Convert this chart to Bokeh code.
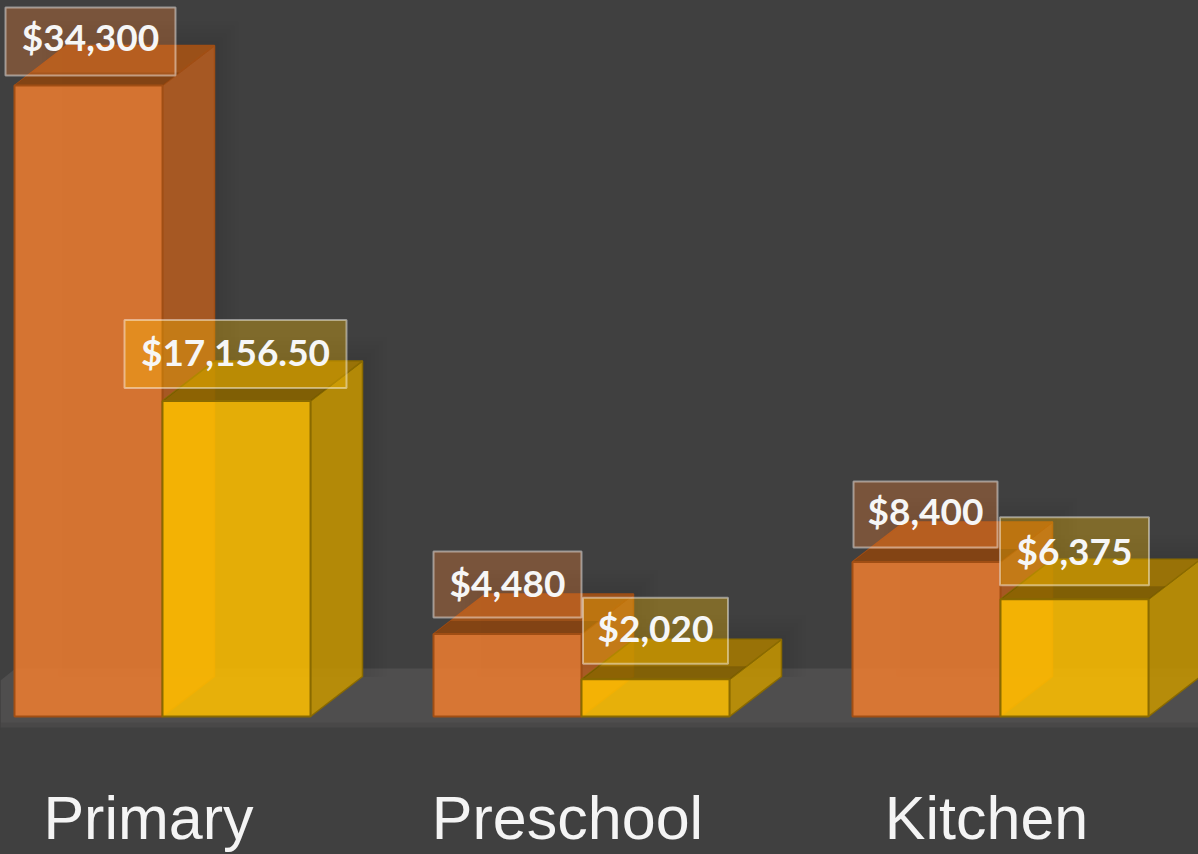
from bokeh.plotting import figure
from bokeh.models import Range1d, FixedTicker
from bokeh.embed import file_html
from bokeh.resources import INLINE
from bokeh.core.properties import value

categories = ["Primary", "Preschool", "Kitchen"]
series_a = [34300, 4480, 8400]
series_b = [17156.5, 2020, 6375]
label_a = ["$34,300", "$4,480", "$8,400"]
label_b = ["$17,156.50", "$2,020", "$6,375"]

W, H, AXIS_H = 1198, 854, 114
BASE_PX, GROUP0_PX, STEP_PX = 716, 162, 419
PX_PER_USD = 631 / 34300
BAR = 148 / STEP_PX
ALPHA = 0.865
BG = "#404040"

def dx(px):
    return px / STEP_PX

def dy(px):
    return px / PX_PER_USD

p = figure(width=W, height=H, output_backend="svg", toolbar_location=None,
           x_range=Range1d(dx(-GROUP0_PX), dx(W - GROUP0_PX)),
           y_range=Range1d(dy(BASE_PX - (H - AXIS_H)), dy(BASE_PX)),
           min_border_left=0, min_border_right=0, min_border_top=0,
           min_border_bottom=AXIS_H, outline_line_color=None,
           background_fill_color=BG, border_fill_color=BG)
p.styles = {"background-color": BG}
p.grid.visible = False
p.yaxis.visible = False

ax = p.xaxis[0]
ticks = [i - dx(14) for i in range(len(categories))]
ax.ticker = FixedTicker(ticks=ticks)
ax.major_label_overrides = {t: c for t, c in zip(ticks, categories)}
ax.axis_line_color = None
ax.major_tick_line_color = None
ax.minor_tick_line_color = None
ax.major_label_text_font = "Liberation Sans"
ax.major_label_text_font_size = "61px"
ax.major_label_text_color = "#f4f4f4"
ax.major_label_standoff = 37

# floor
xl, xr = dx(-GROUP0_PX), dx(W - GROUP0_PX)
p.patch([xl, xl, xl + dx(15), xr, xr],
        [dy(-11), dy(36), dy(48), dy(48), dy(-11)],
        fill_color="#4f4e4e", line_color=None)
p.quad(left=[xl], right=[xr], bottom=[dy(-13)], top=[dy(-6)],
       fill_color=BG, fill_alpha=0.4, line_color=None)

DEPTH_X, DEPTH_Y = dx(52), dy(40)


def shadow(x0, x1, top):
    for grow in (4, 8, 12, 16, 20, 24):
        p.quad(left=[x0 + DEPTH_X - dx(grow)], right=[x1 + DEPTH_X + dx(grow)],
               bottom=[DEPTH_Y], top=[top + DEPTH_Y + dy(grow)],
               fill_color="black", fill_alpha=0.012, line_color=None)


def box(x0, x1, top, front, side, lid, edge):
    # side
    p.patch([x1, x1 + DEPTH_X, x1 + DEPTH_X, x1], [0, DEPTH_Y, top + DEPTH_Y, top],
            fill_color=side, fill_alpha=ALPHA, line_color=edge, line_width=1.5)
    # lid
    p.patch([x0, x0 + DEPTH_X, x1 + DEPTH_X, x1], [top, top + DEPTH_Y, top + DEPTH_Y, top],
            fill_color=lid, fill_alpha=ALPHA, line_color=edge, line_width=1.5)
    # contact shadow on the lid
    band = 13 / 40
    p.patch([x0, x0 + DEPTH_X * band, x1 + DEPTH_X * band, x1],
            [top, top + DEPTH_Y * band, top + DEPTH_Y * band, top],
            fill_color="black", fill_alpha=0.16, line_color=None)
    # front
    p.quad(left=[x0], right=[x1], bottom=[0], top=[top],
           fill_color=front, fill_alpha=ALPHA, line_color=edge, line_width=2)


for i in range(len(categories)):
    shadow(i - BAR, i, series_a[i])
    shadow(i, i + BAR, series_b[i])

for i in range(len(categories)):
    box(i - BAR, i, series_a[i], "#ed7d31", "#b85e20", "#ab5414", "#a04e14")
for i in range(len(categories)):
    box(i, i + BAR, series_b[i], "#ffc000", "#c79600", "#a87c00", "#8a6a00")

box_w = [[170, 148, 144], [222, 145, 149]]
box_h = [[68, 66, 66], [68, 66, 68]]
box_off = [[2, 0, -1], [-1, 0, 0]]
box_up = [[44, 49.5, 47.5], [47, 48.5, 48]]
text_up = [[5, 2, 4], [2, 3, 1]]
sets = [(series_a, label_a, "#ed7d31", -BAR / 2), (series_b, label_b, "#ffc000", BAR / 2)]
for s, (vals, labs, col, shift) in enumerate(sets):
    xs = [i + shift + dx(box_off[s][i]) for i in range(len(vals))]
    ys = [v + dy(box_up[s][i]) for i, v in enumerate(vals)]
    p.rect(x=xs, y=ys, width=box_w[s], height=box_h[s],
           width_units="screen", height_units="screen",
           fill_color=col, fill_alpha=0.33,
           line_color="#ffffff", line_alpha=0.45, line_width=2)
    p.text(x=xs, y=[y + dy(text_up[s][i]) for i, y in enumerate(ys)], text=labs,
           text_font=value("Lato"), text_font_style="bold",
           text_font_size="37px", text_color="#f6f6f6",
           text_align="center", text_baseline="middle")

open("out.html", "w").write(file_html(p, INLINE))
